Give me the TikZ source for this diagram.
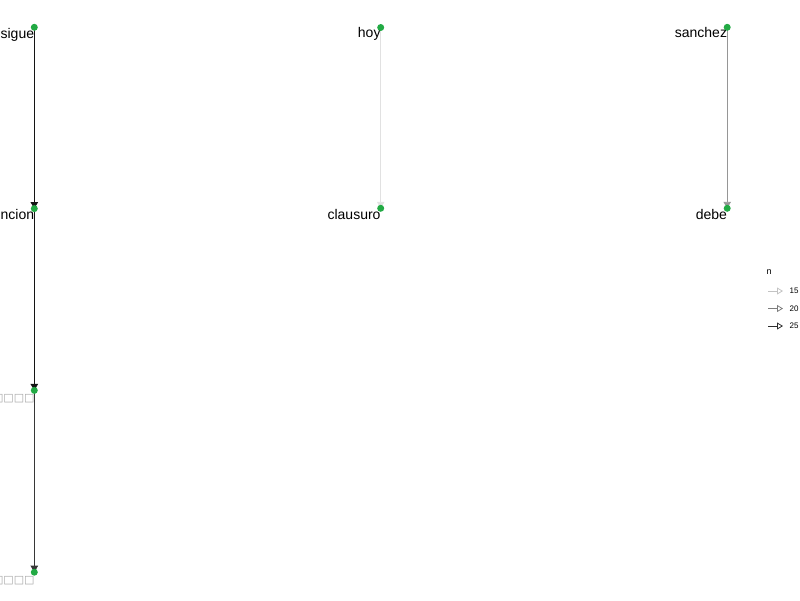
\documentclass[tikz,border=0pt]{standalone}
\usepackage{fontspec}
\setmainfont{Liberation Sans}
\newfontfamily\symfont{DejaVu Sans}
\usetikzlibrary{arrows.meta,calc}
\definecolor{dotgreen}{RGB}{34,170,68}
\definecolor{nfifteen}{RGB}{225,225,225}
\definecolor{ntwenty}{RGB}{150,150,150}
\definecolor{ntwentyfive}{RGB}{20,20,20}
\definecolor{legfifteen}{RGB}{195,195,195}
\definecolor{legtwenty}{RGB}{125,125,125}
\definecolor{legtwentyfive}{RGB}{45,45,45}
\tikzset{
  vertex/.style={circle, fill=dotgreen, inner sep=0pt, minimum size=7pt},
  vlabel/.style={anchor=base east, inner sep=0pt, font=\fontsize{14}{14}\selectfont},
  tofu/.style={anchor=base east, inner sep=0pt, text=gray!70, font=\symfont\fontsize{11}{11}\selectfont},
  link/.style={line width=0.9pt, -{Triangle[length=6.5pt, width=7.5pt]}},
  keyarrow/.style={line width=0.8pt, -{Triangle[open, length=6pt, width=7pt]}},
  keytext/.style={anchor=west, inner sep=0pt, font=\fontsize{8}{8}\selectfont},
}
\begin{document}
\begin{tikzpicture}[x=1pt, y=-1pt]
\useasboundingbox (0,0) rectangle (800,600);
\clip (0,0) rectangle (800,600);
% vertex positions
\coordinate (n1) at (34.3,27.3);
\coordinate (n2) at (34.3,208.6);
\coordinate (n3) at (34.3,390.4);
\coordinate (n4) at (34.3,572.2);
\coordinate (h1) at (380.7,27.5);
\coordinate (h2) at (380.7,208.3);
\coordinate (s1) at (727.2,27.3);
\coordinate (s2) at (727.2,208.3);
% edges
\draw[link, color=ntwentyfive] (n1) -- (n2);
\draw[link, color=ntwentyfive] (n2) -- (n3);
\draw[link, color=ntwentyfive!85] (n3) -- (n4);
\draw[link, color=nfifteen] (h1) -- (h2);
\draw[link, color=ntwenty] (s1) -- (s2);
% labels
\node[vlabel] (l1) at ($(n1)+(0,11)$) {sigue};
\node[vlabel] (l2) at ($(n2)+(0,11)$) {ncion};
\node[tofu] (l3) at ($(n3)+(0.5,11)$) {□□□□□};
\node[tofu] (l4) at ($(n4)+(0.5,11)$) {□□□□□};
\node[vlabel] (l5) at ($(h1)+(0,10.2)$) {hoy};
\node[vlabel] (l6) at ($(h2)+(0,11.2)$) {clausuro};
\node[vlabel] (l7) at ($(s1)+(0,10.6)$) {sanchez};
\node[vlabel] (l8) at ($(s2)+(0,10.8)$) {debe};
% vertex dots
\foreach \v in {n1,n2,n3,n4,h1,h2,s1,s2}
  \node[vertex] (d\v) at (\v) {};
% legend
\node[anchor=west, inner sep=0pt, font=\fontsize{9}{9}\selectfont] (ktitle) at (766.5,272) {n};
\coordinate (ka1) at (768,291);
\coordinate (kb1) at (783,291);
\coordinate (ka2) at (768,308.5);
\coordinate (kb2) at (783,308.5);
\coordinate (ka3) at (768,326);
\coordinate (kb3) at (783,326);
\draw[keyarrow, color=legfifteen] (ka1) -- (kb1);
\draw[keyarrow, color=legtwenty] (ka2) -- (kb2);
\draw[keyarrow, color=legtwentyfive] (ka3) -- (kb3);
\node[keytext] (kt1) at (789.5,291) {15};
\node[keytext] (kt2) at (789.5,308.5) {20};
\node[keytext] (kt3) at (789.5,326) {25};
\end{tikzpicture}
\end{document}
